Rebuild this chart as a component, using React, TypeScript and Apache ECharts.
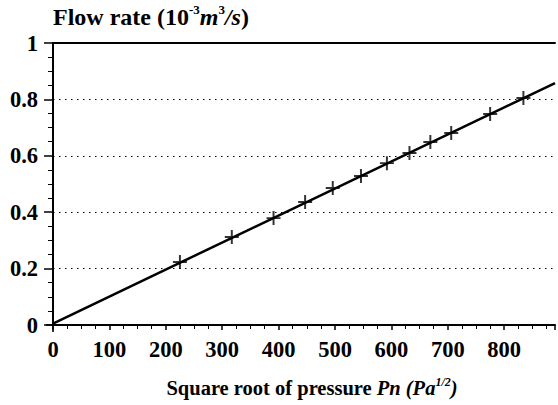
import { useEffect, useRef } from 'react';
import * as echarts from 'echarts';

// Tick labels
const xTickValues = [0, 100, 200, 300, 400, 500, 600, 700, 800];
const yTickValues = [0, 0.2, 0.4, 0.6, 0.8, 1];

// Measured points: square root of pressure Pn (Pa^1/2) vs flow rate (10^-3 m^3/s)
const pressureRoot = [0, 225, 317, 391, 447, 496, 546, 592, 632, 669, 706, 775, 834];
const flowRate = [0, 0.223, 0.312, 0.379, 0.436, 0.486, 0.528, 0.574, 0.61, 0.649, 0.681, 0.748, 0.805];

// Fitted straight line
const fitX = [0, 890];
const fitY = [0.005, 0.858];

const FONT = '"Liberation Serif", "Times New Roman", serif';

export default function App() {
  const ref = useRef<HTMLDivElement>(null);

  useEffect(() => {
    document.body.style.margin = '0';
    const chart = echarts.init(ref.current!, null, { renderer: 'svg' });

    const crossPath =
      'path://M5.15,0 L6.85,0 L6.85,5.15 L12,5.15 L12,6.85 L6.85,6.85 L6.85,12 L5.15,12 L5.15,6.85 L0,6.85 L0,5.15 L5.15,5.15 Z';

    chart.setOption({
      animation: false,
      backgroundColor: '#fff',
      grid: { left: 53, right: 0, top: 43, bottom: 80 },
      xAxis: [
        {
          type: 'value',
          min: 0,
          max: 890,
          interval: 100,
          axisLine: { show: true, lineStyle: { color: '#000', width: 2 } },
          axisTick: { show: true, length: 5, lineStyle: { color: '#000', width: 1.5 } },
          minorTick: { show: true, splitNumber: 4, length: 4, lineStyle: { color: '#000', width: 1 } },
          splitLine: { show: false },
          axisLabel: {
            color: '#000',
            fontFamily: FONT,
            fontWeight: 'bold',
            fontSize: 22.5,
            margin: 13,
            formatter: (v: number) => (xTickValues.includes(v) ? String(v) : ''),
          },
          name: '{pad|\u00a0}{b|Square root of pressure }{i|Pn}{i| (Pa}{sup|1/2}{i|)}',
          nameLocation: 'middle',
          nameGap: 51,
          nameTextStyle: {
            color: '#000',
            rich: {
              pad: { width: 16, fontSize: 20, lineHeight: 24 },
              b: { fontFamily: FONT, fontWeight: 'bold', fontSize: 20.5, color: '#000', lineHeight: 24 },
              i: { fontFamily: FONT, fontWeight: 'bold', fontStyle: 'italic', fontSize: 20.5, color: '#000', lineHeight: 24 },
              sup: { fontFamily: FONT, fontWeight: 'bold', fontStyle: 'italic', fontSize: 12, color: '#000', verticalAlign: 'top', lineHeight: 24, padding: [0, 0, 10, 0] },
            },
          },
        },
        {
          type: 'value',
          position: 'top',
          min: 0,
          max: 890,
          interval: 100,
          axisLine: { show: true, lineStyle: { color: '#000', width: 2 } },
          axisTick: { show: false },
          axisLabel: { show: false },
          splitLine: { show: false },
        },
      ],
      yAxis: {
        type: 'value',
        min: 0,
        max: 1,
        interval: 0.2,
        axisLine: { show: true, lineStyle: { color: '#000', width: 2 } },
        axisTick: { show: true, length: 9, lineStyle: { color: '#000', width: 1.5 } },
        minorTick: { show: true, splitNumber: 4, length: 5, lineStyle: { color: '#000', width: 1 } },
        splitLine: { show: true, lineStyle: { color: '#000', width: 1, type: [1.5, 4.5] } },
        axisLabel: {
          color: '#000',
          fontFamily: FONT,
          fontWeight: 'bold',
          fontSize: 22.5,
          margin: 15,
          formatter: (v: number) => (yTickValues.some((t) => Math.abs(t - v) < 1e-9) ? String(Math.round(v * 10) / 10) : ''),
        },
        name: '{b|Flow rate (10}{sup|-3}{i|m}{sup|3}{i|/s}{b|)}',
        nameLocation: 'end',
        nameGap: 13,
        nameTextStyle: {
          align: 'left',
          color: '#000',
          rich: {
            b: { fontFamily: FONT, fontWeight: 'bold', fontSize: 24, color: '#000', lineHeight: 27 },
            i: { fontFamily: FONT, fontWeight: 'bold', fontStyle: 'italic', fontSize: 24, color: '#000', lineHeight: 27 },
            sup: { fontFamily: FONT, fontWeight: 'bold', fontSize: 13, color: '#000', verticalAlign: 'top', lineHeight: 27, padding: [0, 0, 12, 0] },
          },
        },
      },
      series: [
        {
          type: 'line',
          data: fitX.map((x, i) => [x, fitY[i]]),
          symbol: 'none',
          lineStyle: { color: '#000', width: 2.5 },
          clip: true,
          silent: true,
        },
        {
          type: 'scatter',
          data: pressureRoot.map((x, i) => [x, flowRate[i]]),
          symbol: crossPath,
          symbolSize: 14,
          itemStyle: { color: '#000' },
          clip: false,
        },
      ],
    });

    return () => chart.dispose();
  }, []);

  return <div ref={ref} style={{ width: 558, height: 405 }} />;
}
